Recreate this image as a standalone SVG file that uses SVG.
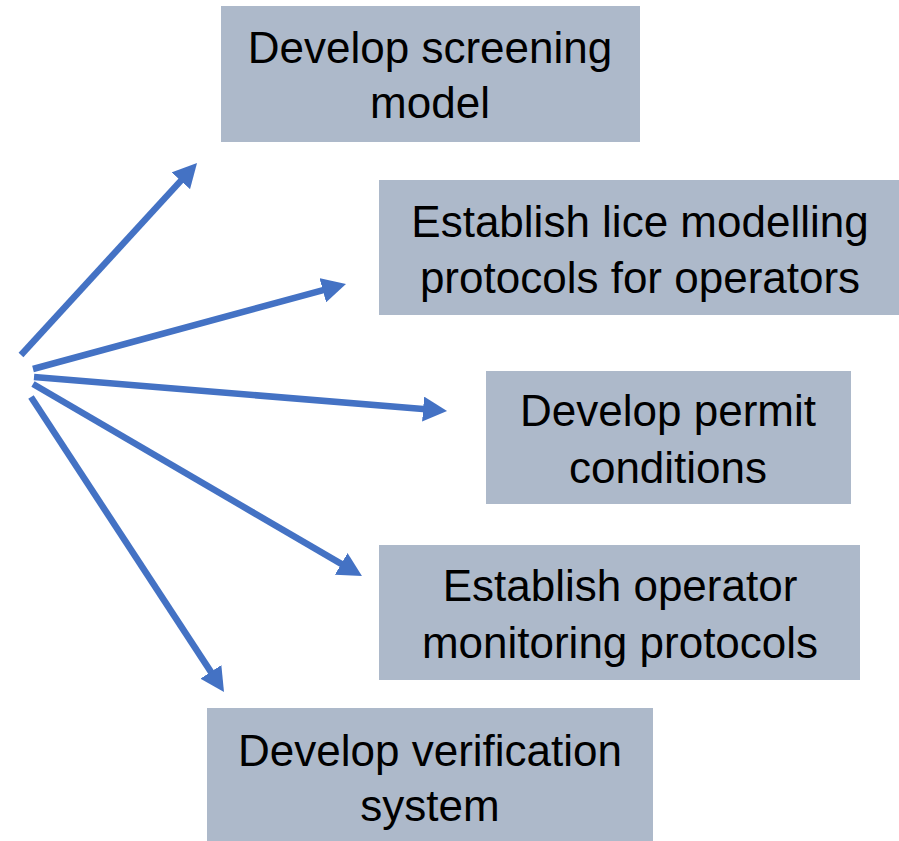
<svg xmlns="http://www.w3.org/2000/svg" width="899" height="841" viewBox="0 0 899 841">
<style>
.box{fill:#ADB9CA;}
.lbl{font-family:"Liberation Sans",Arial,sans-serif;font-size:44px;fill:#000;text-anchor:middle;}
.arr{stroke:#4472C4;stroke-width:6.5;fill:none;marker-end:url(#ah);}
</style>
<defs>
<marker id="ah" markerUnits="userSpaceOnUse" markerWidth="24" markerHeight="25" viewBox="0 0 24 25" refX="9" refY="12.5" orient="auto">
<path d="M0,0 L24,12.5 L0,25 z" fill="#4472C4"/>
</marker>
</defs>
<rect width="899" height="841" fill="#fff"/>
<g id="n1"><rect class="box" x="221" y="6" width="419" height="136"/><text class="lbl" x="430" y="63">Develop screening</text><text class="lbl" x="430" y="118">model</text></g>
<g id="n2"><rect class="box" x="379" y="180" width="520" height="135"/><text class="lbl" x="640" y="237">Establish lice modelling</text><text class="lbl" x="640" y="293">protocols for operators</text></g>
<g id="n3"><rect class="box" x="486" y="371" width="365" height="133"/><text class="lbl" x="668" y="426">Develop permit</text><text class="lbl" x="668" y="483">conditions</text></g>
<g id="n4"><rect class="box" x="379" y="545" width="481" height="135"/><text class="lbl" x="620" y="601">Establish operator</text><text class="lbl" x="620" y="658">monitoring protocols</text></g>
<g id="n5"><rect class="box" x="207" y="708" width="446" height="133"/><text class="lbl" x="430" y="766">Develop verification</text><text class="lbl" x="430" y="821">system</text></g>
<g id="connectors">
<line class="arr" x1="21" y1="355" x2="186.9" y2="174.1"/>
<line class="arr" x1="33" y1="369" x2="331.5" y2="287.9"/>
<line class="arr" x1="34" y1="377" x2="432.1" y2="409.8"/>
<line class="arr" x1="33" y1="384" x2="349" y2="568.4"/>
<line class="arr" x1="31" y1="397" x2="215.8" y2="679.4"/>
</g>
</svg>
